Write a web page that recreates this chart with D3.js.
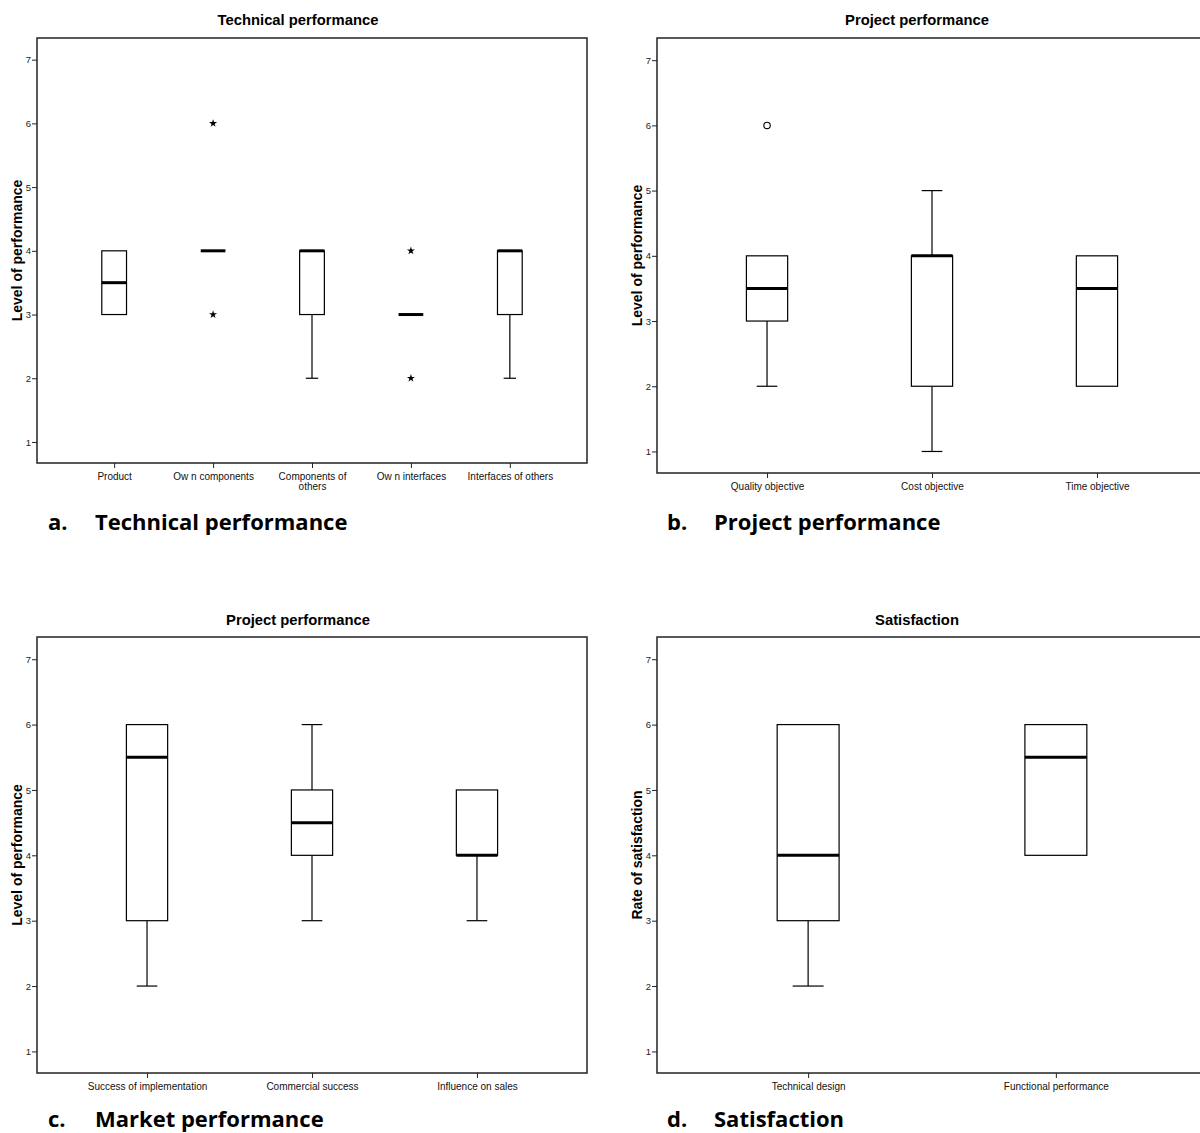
<!DOCTYPE html>
<html><head><meta charset="utf-8">
<script src="https://cdn.jsdelivr.net/npm/d3@7"></script>
<style>body{margin:0;background:#fff}svg{display:block}</style>
</head><body>
<svg id="chart" width="1200" height="1133"></svg>
<script>
// ---------- data ----------
const yTicks = [1, 2, 3, 4, 5, 6, 7];

// a. Technical performance
const catsA = ["Product", "Ow n components", "Components of others", "Ow n interfaces", "Interfaces of others"];
const loA   = [3, 4, 2, 3, 2];
const q1A   = [3, 4, 3, 3, 3];
const medA  = [3.5, 4, 4, 3, 4];
const q3A   = [4, 4, 4, 3, 4];
const hiA   = [4, 4, 4, 3, 4];
const extremeA = [[], [6, 3], [], [4, 2], []];
const outlierA = [[], [], [], [], []];

// b. Project performance
const catsB = ["Quality objective", "Cost objective", "Time objective"];
const loB   = [2, 1, 2];
const q1B   = [3, 2, 2];
const medB  = [3.5, 4, 3.5];
const q3B   = [4, 4, 4];
const hiB   = [4, 5, 4];
const extremeB = [[], [], []];
const outlierB = [[6], [], []];

// c. Market performance
const catsC = ["Success of implementation", "Commercial success", "Influence on sales"];
const loC   = [2, 3, 3];
const q1C   = [3, 4, 4];
const medC  = [5.5, 4.5, 4];
const q3C   = [6, 5, 5];
const hiC   = [6, 6, 5];
const extremeC = [[], [], []];
const outlierC = [[], [], []];

// d. Satisfaction
const catsD = ["Technical design", "Functional performance"];
const loD   = [2, 4];
const q1D   = [3, 4];
const medD  = [4, 5.5];
const q3D   = [6, 6];
const hiD   = [6, 6];
const extremeD = [[], []];
const outlierD = [[], []];

// ---------- drawing ----------
const svg = d3.select("#chart");
const FONT = "'Liberation Sans', Arial, sans-serif";

function build(cats, lo, q1, med, q3, hi, ext, out) {
  return cats.map((c, i) => ({cat: c, lo: lo[i], q1: q1[i], med: med[i], q3: q3[i], hi: hi[i], ext: ext[i], out: out[i]}));
}

const panels = [
  {title: "Technical performance", ylabel: "Level of performance", cap: ["a.", "Technical performance"],
   rows: build(catsA, loA, q1A, medA, q3A, hiA, extremeA, outlierA),
   x0: 37, x1: 587, y0: 38, y1: 463, pad: 0.78, titleX: 298, titleY: 25, yl: 22, capY: 530, capX: 48},
  {title: "Project performance", ylabel: "Level of performance", cap: ["b.", "Project performance"],
   rows: build(catsB, loB, q1B, medB, q3B, hiB, extremeB, outlierB),
   x0: 657, x1: 1207, y0: 38, y1: 473, pad: 0.667, titleX: 917, titleY: 25, yl: 642, capY: 530, capX: 667},
  {title: "Project performance", ylabel: "Level of performance", cap: ["c.", "Market performance"],
   rows: build(catsC, loC, q1C, medC, q3C, hiC, extremeC, outlierC),
   x0: 37, x1: 587, y0: 637, y1: 1073, pad: 0.667, titleX: 298, titleY: 625, yl: 22, capY: 1127, capX: 48},
  {title: "Satisfaction", ylabel: "Rate of satisfaction", cap: ["d.", "Satisfaction"],
   rows: build(catsD, loD, q1D, medD, q3D, hiD, extremeD, outlierD),
   x0: 657, x1: 1207, y0: 637, y1: 1073, pad: 0.61, titleX: 917, titleY: 625, yl: 642, capY: 1127, capX: 667}
];

panels.forEach(p => {
  const g = svg.append("g");
  const x = d3.scalePoint().domain(p.rows.map(r => r.cat)).range([p.x0, p.x1]).padding(p.pad);
  const y = d3.scaleLinear().domain([0.67, 7.34]).range([p.y1, p.y0]);
  const step = x.step();
  const bw = step * 0.25;

  // title
  g.append("text").attr("x", p.titleX).attr("y", p.titleY)
    .attr("text-anchor", "middle").attr("font-family", FONT).attr("font-weight", "bold")
    .attr("font-size", 14.8).attr("fill", "#000").text(p.title);

  // y axis
  const ya = g.append("g").attr("transform", `translate(${p.x0},0)`)
    .call(d3.axisLeft(y).tickValues(yTicks).tickSize(5).tickPadding(1).tickFormat(d3.format("d")));
  ya.select(".domain").remove();
  ya.selectAll("text").attr("font-family", FONT).attr("font-size", 9.5).attr("fill", "#222");
  ya.selectAll("line").attr("stroke", "#222");

  // x axis
  const xa = g.append("g").attr("transform", `translate(0,${p.y1})`)
    .call(d3.axisBottom(x).tickSize(5).tickPadding(5));
  xa.select(".domain").remove();
  xa.selectAll("line").attr("stroke", "#222");
  xa.selectAll("text").attr("font-family", FONT).attr("font-size", 10).attr("fill", "#111")
    .each(function(d) {
      const t = d3.select(this);
      const len = this.getComputedTextLength();
      if (len > step * 0.9) {
        const words = d.split(" ");
        const last = words.pop();
        t.text(null);
        t.append("tspan").attr("x", 0).attr("dy", "0.71em").text(words.join(" "));
        t.append("tspan").attr("x", 0).attr("dy", "1.0em").text(last);
        t.attr("dy", null);
      }
    });

  // frame
  g.append("rect").attr("x", p.x0).attr("y", p.y0)
    .attr("width", p.x1 - p.x0).attr("height", p.y1 - p.y0)
    .attr("fill", "none").attr("stroke", "#222").attr("stroke-width", 1.5);

  // y label
  g.append("text")
    .attr("transform", `translate(${p.yl},${(p.y0 + p.y1) / 2}) rotate(-90)`)
    .attr("text-anchor", "middle").attr("font-family", FONT).attr("font-weight", "bold")
    .attr("font-size", 14).attr("fill", "#000").text(p.ylabel);

  // boxes
  const b = g.selectAll(".box").data(p.rows).enter().append("g");
  // whiskers
  b.filter(d => d.lo < d.q1).append("line")
    .attr("x1", d => x(d.cat)).attr("x2", d => x(d.cat))
    .attr("y1", d => y(d.q1)).attr("y2", d => y(d.lo)).attr("stroke", "#000").attr("stroke-width", 1.2);
  b.filter(d => d.lo < d.q1).append("line")
    .attr("x1", d => x(d.cat) - bw / 4).attr("x2", d => x(d.cat) + bw / 4)
    .attr("y1", d => y(d.lo)).attr("y2", d => y(d.lo)).attr("stroke", "#000").attr("stroke-width", 1.2);
  b.filter(d => d.hi > d.q3).append("line")
    .attr("x1", d => x(d.cat)).attr("x2", d => x(d.cat))
    .attr("y1", d => y(d.q3)).attr("y2", d => y(d.hi)).attr("stroke", "#000").attr("stroke-width", 1.2);
  b.filter(d => d.hi > d.q3).append("line")
    .attr("x1", d => x(d.cat) - bw / 4).attr("x2", d => x(d.cat) + bw / 4)
    .attr("y1", d => y(d.hi)).attr("y2", d => y(d.hi)).attr("stroke", "#000").attr("stroke-width", 1.2);
  // box
  b.filter(d => d.q3 > d.q1).append("rect")
    .attr("x", d => x(d.cat) - bw / 2).attr("width", bw)
    .attr("y", d => y(d.q3)).attr("height", d => y(d.q1) - y(d.q3))
    .attr("fill", "#fff").attr("stroke", "#000").attr("stroke-width", 1.2);
  // median
  b.append("line")
    .attr("x1", d => x(d.cat) - bw / 2).attr("x2", d => x(d.cat) + bw / 2)
    .attr("y1", d => y(d.med)).attr("y2", d => y(d.med))
    .attr("stroke", "#000").attr("stroke-width", 3);
  // extremes (stars) and outliers (circles)
  b.each(function(d) {
    const gg = d3.select(this);
    d.ext.forEach(v => {
      gg.append("path").attr("d", d3.symbol(d3.symbolStar, 20)())
        .attr("transform", `translate(${x(d.cat)},${y(v)})`).attr("fill", "#000");
    });
    d.out.forEach(v => {
      gg.append("circle").attr("cx", x(d.cat)).attr("cy", y(v)).attr("r", 3.2)
        .attr("fill", "#fff").attr("stroke", "#000").attr("stroke-width", 1.1);
    });
  });

  // caption
  const cap = g.append("text").attr("y", p.capY).attr("font-family", "'Open Sans', Lato, sans-serif")
    .attr("font-weight", "bold").attr("font-size", 22).attr("fill", "#000");
  cap.append("tspan").attr("x", p.capX).text(p.cap[0]);
  cap.append("tspan").attr("x", p.capX + 47).text(p.cap[1]);
});
</script>
</body></html>
